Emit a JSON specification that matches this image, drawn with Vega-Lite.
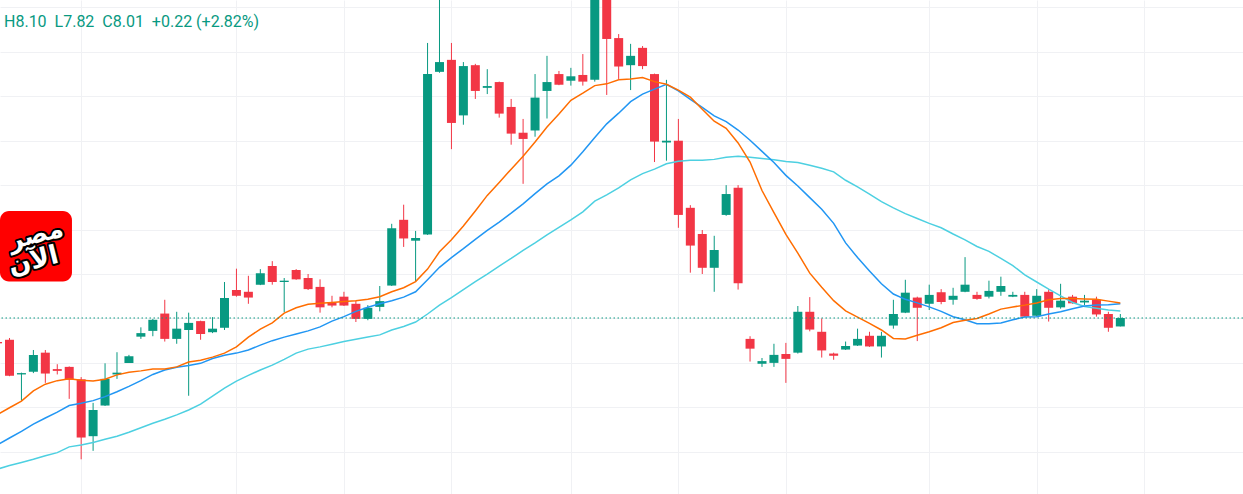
{
  "$schema": "https://vega.github.io/schema/vega-lite/v6.json",
  "width": 1243,
  "height": 494,
  "padding": 0,
  "autosize": {"type": "none"},
  "background": "#ffffff",
  "config": {"view": {"stroke": null}},
  "title": {"text": "H8.10\u00a0\u00a0L7.82\u00a0\u00a0C8.01\u00a0\u00a0+0.22 (+2.82%)", "anchor": "start", "frame": "group", "orient": "top", "offset": -43, "baseline": "alphabetic", "dx": 4, "font": "Roboto", "fontSize": 16, "fontWeight": "normal", "color": "#089981"},
  "datasets": {
    "candles": [
      {"i": -1, "o": 7.47, "h": 7.51, "l": 7.40, "c": 7.44, "m1": 5.84, "m2": 5.16, "m3": 4.61},
      {"i": 0, "o": 7.52, "h": 7.56, "l": 6.70, "c": 6.71, "m1": 5.99, "m2": 5.31, "m3": 4.69},
      {"i": 1, "o": 6.74, "h": 6.78, "l": 6.15, "c": 6.77, "m1": 6.14, "m2": 5.46, "m3": 4.76},
      {"i": 2, "o": 6.80, "h": 7.29, "l": 6.77, "c": 7.18, "m1": 6.37, "m2": 5.62, "m3": 4.83},
      {"i": 3, "o": 7.23, "h": 7.29, "l": 6.55, "c": 6.76, "m1": 6.52, "m2": 5.76, "m3": 4.91},
      {"i": 4, "o": 6.86, "h": 6.97, "l": 6.74, "c": 6.82, "m1": 6.60, "m2": 5.89, "m3": 4.98},
      {"i": 5, "o": 6.91, "h": 6.92, "l": 6.19, "c": 6.62, "m1": 6.64, "m2": 6.04, "m3": 5.11},
      {"i": 6, "o": 6.63, "h": 6.68, "l": 4.83, "c": 5.32, "m1": 6.61, "m2": 6.09, "m3": 5.15},
      {"i": 7, "o": 5.35, "h": 6.10, "l": 5.02, "c": 5.94, "m1": 6.59, "m2": 6.15, "m3": 5.21},
      {"i": 8, "o": 6.04, "h": 6.99, "l": 6.03, "c": 6.64, "m1": 6.63, "m2": 6.24, "m3": 5.28},
      {"i": 9, "o": 6.74, "h": 7.24, "l": 6.64, "c": 6.78, "m1": 6.73, "m2": 6.35, "m3": 5.35},
      {"i": 10, "o": 7.00, "h": 7.18, "l": 7.00, "c": 7.15, "m1": 6.79, "m2": 6.47, "m3": 5.44},
      {"i": 11, "o": 7.59, "h": 7.80, "l": 7.54, "c": 7.67, "m1": 6.82, "m2": 6.60, "m3": 5.54},
      {"i": 12, "o": 7.72, "h": 7.99, "l": 7.60, "c": 7.97, "m1": 6.86, "m2": 6.74, "m3": 5.64},
      {"i": 13, "o": 8.11, "h": 8.42, "l": 7.48, "c": 7.54, "m1": 6.86, "m2": 6.84, "m3": 5.73},
      {"i": 14, "o": 7.54, "h": 8.15, "l": 7.43, "c": 7.77, "m1": 6.91, "m2": 6.90, "m3": 5.83},
      {"i": 15, "o": 7.74, "h": 8.13, "l": 6.26, "c": 7.90, "m1": 7.02, "m2": 6.94, "m3": 5.94},
      {"i": 16, "o": 7.94, "h": 7.95, "l": 7.52, "c": 7.65, "m1": 7.06, "m2": 6.99, "m3": 6.07},
      {"i": 17, "o": 7.69, "h": 8.03, "l": 7.67, "c": 7.77, "m1": 7.13, "m2": 7.10, "m3": 6.25},
      {"i": 18, "o": 7.79, "h": 8.82, "l": 7.74, "c": 8.46, "m1": 7.22, "m2": 7.17, "m3": 6.43},
      {"i": 19, "o": 8.64, "h": 9.12, "l": 8.49, "c": 8.51, "m1": 7.36, "m2": 7.22, "m3": 6.59},
      {"i": 20, "o": 8.60, "h": 8.96, "l": 8.33, "c": 8.47, "m1": 7.58, "m2": 7.29, "m3": 6.72},
      {"i": 21, "o": 8.76, "h": 9.11, "l": 8.75, "c": 9.02, "m1": 7.76, "m2": 7.40, "m3": 6.84},
      {"i": 22, "o": 9.18, "h": 9.29, "l": 8.76, "c": 8.82, "m1": 7.90, "m2": 7.50, "m3": 6.95},
      {"i": 23, "o": 8.82, "h": 8.91, "l": 8.14, "c": 8.85, "m1": 8.12, "m2": 7.58, "m3": 7.08},
      {"i": 24, "o": 9.09, "h": 9.11, "l": 8.87, "c": 8.88, "m1": 8.24, "m2": 7.65, "m3": 7.22},
      {"i": 25, "o": 8.91, "h": 9.00, "l": 8.64, "c": 8.66, "m1": 8.32, "m2": 7.72, "m3": 7.31},
      {"i": 26, "o": 8.71, "h": 8.88, "l": 8.13, "c": 8.25, "m1": 8.34, "m2": 7.81, "m3": 7.36},
      {"i": 27, "o": 8.35, "h": 8.51, "l": 8.25, "c": 8.29, "m1": 8.36, "m2": 7.94, "m3": 7.42},
      {"i": 28, "o": 8.49, "h": 8.60, "l": 8.28, "c": 8.29, "m1": 8.38, "m2": 8.04, "m3": 7.48},
      {"i": 29, "o": 8.33, "h": 8.40, "l": 7.92, "c": 7.99, "m1": 8.40, "m2": 8.16, "m3": 7.53},
      {"i": 30, "o": 7.99, "h": 8.30, "l": 7.96, "c": 8.24, "m1": 8.43, "m2": 8.25, "m3": 7.58},
      {"i": 31, "o": 8.26, "h": 8.73, "l": 8.16, "c": 8.39, "m1": 8.49, "m2": 8.33, "m3": 7.63},
      {"i": 32, "o": 8.74, "h": 10.13, "l": 8.73, "c": 10.03, "m1": 8.60, "m2": 8.40, "m3": 7.74},
      {"i": 33, "o": 10.22, "h": 10.56, "l": 9.61, "c": 9.80, "m1": 8.69, "m2": 8.48, "m3": 7.82},
      {"i": 34, "o": 9.75, "h": 9.97, "l": 8.83, "c": 9.81, "m1": 8.83, "m2": 8.60, "m3": 7.92},
      {"i": 35, "o": 9.89, "h": 14.20, "l": 9.88, "c": 13.50, "m1": 9.11, "m2": 8.87, "m3": 8.10},
      {"i": 36, "o": 13.55, "h": 15.40, "l": 13.53, "c": 13.77, "m1": 9.50, "m2": 9.15, "m3": 8.30},
      {"i": 37, "o": 13.82, "h": 14.20, "l": 11.81, "c": 12.40, "m1": 9.77, "m2": 9.37, "m3": 8.47},
      {"i": 38, "o": 12.57, "h": 13.77, "l": 12.36, "c": 13.68, "m1": 10.08, "m2": 9.57, "m3": 8.65},
      {"i": 39, "o": 13.70, "h": 13.73, "l": 12.94, "c": 13.12, "m1": 10.42, "m2": 9.78, "m3": 8.83},
      {"i": 40, "o": 13.19, "h": 13.61, "l": 13.05, "c": 13.23, "m1": 10.77, "m2": 9.98, "m3": 9.00},
      {"i": 41, "o": 13.32, "h": 13.33, "l": 12.52, "c": 12.61, "m1": 11.06, "m2": 10.17, "m3": 9.18},
      {"i": 42, "o": 12.76, "h": 12.94, "l": 11.91, "c": 12.16, "m1": 11.36, "m2": 10.37, "m3": 9.35},
      {"i": 43, "o": 12.18, "h": 12.49, "l": 11.03, "c": 12.04, "m1": 11.65, "m2": 10.58, "m3": 9.53},
      {"i": 44, "o": 12.23, "h": 13.50, "l": 12.09, "c": 12.97, "m1": 11.97, "m2": 10.81, "m3": 9.70},
      {"i": 45, "o": 13.12, "h": 13.91, "l": 12.50, "c": 13.32, "m1": 12.31, "m2": 11.03, "m3": 9.88},
      {"i": 46, "o": 13.50, "h": 13.57, "l": 13.25, "c": 13.26, "m1": 12.60, "m2": 11.21, "m3": 10.05},
      {"i": 47, "o": 13.35, "h": 13.64, "l": 13.24, "c": 13.45, "m1": 12.91, "m2": 11.45, "m3": 10.22},
      {"i": 48, "o": 13.48, "h": 13.95, "l": 13.24, "c": 13.33, "m1": 13.07, "m2": 11.75, "m3": 10.40},
      {"i": 49, "o": 13.37, "h": 15.50, "l": 13.33, "c": 15.35, "m1": 13.24, "m2": 12.07, "m3": 10.64},
      {"i": 50, "o": 15.40, "h": 15.60, "l": 13.03, "c": 14.29, "m1": 13.28, "m2": 12.38, "m3": 10.78},
      {"i": 51, "o": 14.31, "h": 14.40, "l": 13.39, "c": 13.67, "m1": 13.37, "m2": 12.62, "m3": 10.94},
      {"i": 52, "o": 13.70, "h": 14.18, "l": 13.14, "c": 13.91, "m1": 13.39, "m2": 12.88, "m3": 11.12},
      {"i": 53, "o": 14.09, "h": 14.13, "l": 13.61, "c": 13.68, "m1": 13.42, "m2": 13.05, "m3": 11.26},
      {"i": 54, "o": 13.50, "h": 13.51, "l": 11.52, "c": 11.98, "m1": 13.33, "m2": 13.16, "m3": 11.36},
      {"i": 55, "o": 11.96, "h": 13.37, "l": 11.55, "c": 12.00, "m1": 13.27, "m2": 13.27, "m3": 11.48},
      {"i": 56, "o": 12.00, "h": 12.49, "l": 10.04, "c": 10.33, "m1": 13.14, "m2": 13.12, "m3": 11.54},
      {"i": 57, "o": 10.49, "h": 10.55, "l": 9.03, "c": 9.64, "m1": 12.98, "m2": 12.93, "m3": 11.56},
      {"i": 58, "o": 9.90, "h": 9.99, "l": 9.00, "c": 9.14, "m1": 12.71, "m2": 12.75, "m3": 11.56},
      {"i": 59, "o": 9.14, "h": 9.86, "l": 8.60, "c": 9.54, "m1": 12.44, "m2": 12.56, "m3": 11.58},
      {"i": 60, "o": 10.33, "h": 11.00, "l": 10.31, "c": 10.80, "m1": 12.28, "m2": 12.43, "m3": 11.63},
      {"i": 61, "o": 10.94, "h": 11.00, "l": 8.65, "c": 8.79, "m1": 11.95, "m2": 12.24, "m3": 11.65},
      {"i": 62, "o": 7.54, "h": 7.60, "l": 7.03, "c": 7.32, "m1": 11.52, "m2": 12.01, "m3": 11.63},
      {"i": 63, "o": 6.98, "h": 7.11, "l": 6.91, "c": 7.04, "m1": 10.88, "m2": 11.76, "m3": 11.60},
      {"i": 64, "o": 7.00, "h": 7.43, "l": 6.91, "c": 7.18, "m1": 10.38, "m2": 11.51, "m3": 11.57},
      {"i": 65, "o": 7.20, "h": 7.45, "l": 6.55, "c": 7.09, "m1": 9.89, "m2": 11.22, "m3": 11.53},
      {"i": 66, "o": 7.23, "h": 8.28, "l": 7.21, "c": 8.15, "m1": 9.47, "m2": 10.98, "m3": 11.51},
      {"i": 67, "o": 8.15, "h": 8.48, "l": 7.71, "c": 7.75, "m1": 9.02, "m2": 10.72, "m3": 11.45},
      {"i": 68, "o": 7.70, "h": 8.00, "l": 7.12, "c": 7.28, "m1": 8.70, "m2": 10.46, "m3": 11.38},
      {"i": 69, "o": 7.21, "h": 7.23, "l": 7.07, "c": 7.16, "m1": 8.40, "m2": 10.14, "m3": 11.30},
      {"i": 70, "o": 7.30, "h": 7.48, "l": 7.29, "c": 7.38, "m1": 8.17, "m2": 9.70, "m3": 11.11},
      {"i": 71, "o": 7.39, "h": 7.77, "l": 7.38, "c": 7.54, "m1": 8.03, "m2": 9.37, "m3": 10.96},
      {"i": 72, "o": 7.61, "h": 7.70, "l": 7.36, "c": 7.37, "m1": 7.89, "m2": 9.07, "m3": 10.80},
      {"i": 73, "o": 7.37, "h": 7.70, "l": 7.12, "c": 7.61, "m1": 7.74, "m2": 8.78, "m3": 10.63},
      {"i": 74, "o": 7.84, "h": 8.42, "l": 7.77, "c": 8.10, "m1": 7.55, "m2": 8.55, "m3": 10.49},
      {"i": 75, "o": 8.13, "h": 8.87, "l": 8.12, "c": 8.58, "m1": 7.54, "m2": 8.43, "m3": 10.36},
      {"i": 76, "o": 8.47, "h": 8.49, "l": 7.49, "c": 8.24, "m1": 7.62, "m2": 8.35, "m3": 10.25},
      {"i": 77, "o": 8.33, "h": 8.76, "l": 8.19, "c": 8.53, "m1": 7.70, "m2": 8.26, "m3": 10.14},
      {"i": 78, "o": 8.59, "h": 8.66, "l": 8.32, "c": 8.37, "m1": 7.79, "m2": 8.16, "m3": 10.04},
      {"i": 79, "o": 8.42, "h": 8.69, "l": 8.31, "c": 8.51, "m1": 7.91, "m2": 8.04, "m3": 9.90},
      {"i": 80, "o": 8.60, "h": 9.38, "l": 8.59, "c": 8.76, "m1": 7.96, "m2": 7.97, "m3": 9.77},
      {"i": 81, "o": 8.53, "h": 8.60, "l": 8.42, "c": 8.44, "m1": 8.00, "m2": 7.88, "m3": 9.62},
      {"i": 82, "o": 8.49, "h": 8.85, "l": 8.45, "c": 8.62, "m1": 8.10, "m2": 7.88, "m3": 9.51},
      {"i": 83, "o": 8.60, "h": 8.94, "l": 8.51, "c": 8.73, "m1": 8.21, "m2": 7.90, "m3": 9.35},
      {"i": 84, "o": 8.49, "h": 8.60, "l": 8.48, "c": 8.53, "m1": 8.26, "m2": 7.97, "m3": 9.19},
      {"i": 85, "o": 8.53, "h": 8.60, "l": 8.03, "c": 8.04, "m1": 8.30, "m2": 8.03, "m3": 8.98},
      {"i": 86, "o": 8.06, "h": 8.66, "l": 8.05, "c": 8.51, "m1": 8.35, "m2": 8.04, "m3": 8.82},
      {"i": 87, "o": 8.60, "h": 8.66, "l": 7.93, "c": 8.24, "m1": 8.42, "m2": 8.10, "m3": 8.66},
      {"i": 88, "o": 8.25, "h": 8.78, "l": 8.22, "c": 8.40, "m1": 8.45, "m2": 8.15, "m3": 8.51},
      {"i": 89, "o": 8.49, "h": 8.53, "l": 8.33, "c": 8.34, "m1": 8.45, "m2": 8.22, "m3": 8.36},
      {"i": 90, "o": 8.36, "h": 8.53, "l": 8.30, "c": 8.40, "m1": 8.44, "m2": 8.28, "m3": 8.27},
      {"i": 91, "o": 8.42, "h": 8.49, "l": 8.04, "c": 8.09, "m1": 8.43, "m2": 8.30, "m3": 8.23},
      {"i": 92, "o": 8.10, "h": 8.15, "l": 7.70, "c": 7.79, "m1": 8.39, "m2": 8.31, "m3": 8.19},
      {"i": 93, "o": 7.82, "h": 8.10, "l": 7.82, "c": 8.01, "m1": 8.35, "m2": 8.33, "m3": 8.17}
    ]
  },
  "layer": [
    {
      "data": {"name": "candles"},
      "mark": {"type": "rule", "strokeWidth": 1, "clip": true},
      "encoding": {
        "x": {"field": "i", "type": "quantitative", "scale": {"domain": [-0.795, 103.27], "nice": false, "zero": false, "padding": 0},
              "axis": {"values": [6, 19, 28, 37, 47, 56, 65, 77, 86, 95], "grid": true, "gridColor": "#f0f1f4", "labels": false, "ticks": false, "domain": false, "title": null}},
        "y": {"field": "l", "type": "quantitative", "scale": {"domain": [4.049, 15.167], "nice": false, "zero": false, "padding": 0},
              "axis": {"values": [5, 6, 7, 8, 9, 10, 11, 12, 13, 14, 15], "grid": true, "gridColor": "#f0f1f4", "labels": false, "ticks": false, "domain": false, "title": null}},
        "y2": {"field": "h"},
        "color": {"condition": {"test": "datum.c >= datum.o", "value": "#089981"}, "value": "#F23645"}
      }
    },
    {
      "data": {"name": "candles"},
      "mark": {"type": "bar", "width": 9, "clip": true},
      "encoding": {
        "x": {"field": "i", "type": "quantitative"},
        "y": {"field": "o", "type": "quantitative"},
        "y2": {"field": "c"},
        "color": {"condition": {"test": "datum.c >= datum.o", "value": "#089981"}, "value": "#F23645"}
      }
    },
    {
      "data": {"name": "candles"},
      "mark": {"type": "line", "color": "#4DD0E1", "strokeWidth": 1.5, "clip": true},
      "encoding": {"x": {"field": "i", "type": "quantitative"}, "y": {"field": "m3", "type": "quantitative"}}
    },
    {
      "data": {"name": "candles"},
      "mark": {"type": "line", "color": "#2196F3", "strokeWidth": 1.5, "clip": true},
      "encoding": {"x": {"field": "i", "type": "quantitative"}, "y": {"field": "m2", "type": "quantitative"}}
    },
    {
      "data": {"name": "candles"},
      "mark": {"type": "line", "color": "#FF6D00", "strokeWidth": 1.5, "clip": true},
      "encoding": {"x": {"field": "i", "type": "quantitative"}, "y": {"field": "m1", "type": "quantitative"}}
    },
    {
      "data": {"values": [{"p": 8.01}]},
      "mark": {"type": "rule", "color": "#089981", "strokeWidth": 1, "strokeDash": [1.5, 2.5]},
      "encoding": {"y": {"field": "p", "type": "quantitative"}}
    },
    {
      "data": {"values": [{"logo": "مصر الآن"}]},
      "mark": {"type": "rect", "color": "#ff0000", "cornerRadius": 9},
      "encoding": {
        "x": {"datum": -0.795, "type": "quantitative"},
        "x2": {"datum": 5.23},
        "y": {"datum": 10.42, "type": "quantitative"},
        "y2": {"datum": 8.83}
      }
    },
    {
      "data": {"values": [{"t": "مصر"}]},
      "mark": {"type": "text", "font": "DejaVu Sans", "fontWeight": "bold", "fontSize": 25, "angle": 346, "fill": "#ffffff", "stroke": "#000000", "strokeWidth": 4, "strokeJoin": "round", "align": "center", "baseline": "middle"},
      "encoding": {"x": {"datum": 2.2, "type": "quantitative"}, "y": {"datum": 9.88, "type": "quantitative"}, "text": {"field": "t"}}
    },
    {
      "data": {"values": [{"t": "مصر"}]},
      "mark": {"type": "text", "font": "DejaVu Sans", "fontWeight": "bold", "fontSize": 25, "angle": 346, "fill": "#ffffff", "align": "center", "baseline": "middle"},
      "encoding": {"x": {"datum": 2.2, "type": "quantitative"}, "y": {"datum": 9.88, "type": "quantitative"}, "text": {"field": "t"}}
    },
    {
      "data": {"values": [{"t": "الآن"}]},
      "mark": {"type": "text", "font": "DejaVu Sans", "fontWeight": "bold", "fontSize": 26, "angle": 346, "fill": "#ffffff", "stroke": "#000000", "strokeWidth": 4, "strokeJoin": "round", "align": "center", "baseline": "middle"},
      "encoding": {"x": {"datum": 2.0, "type": "quantitative"}, "y": {"datum": 9.3, "type": "quantitative"}, "text": {"field": "t"}}
    },
    {
      "data": {"values": [{"t": "الآن"}]},
      "mark": {"type": "text", "font": "DejaVu Sans", "fontWeight": "bold", "fontSize": 26, "angle": 346, "fill": "#ffffff", "align": "center", "baseline": "middle"},
      "encoding": {"x": {"datum": 2.0, "type": "quantitative"}, "y": {"datum": 9.3, "type": "quantitative"}, "text": {"field": "t"}}
    }
  ]
}
